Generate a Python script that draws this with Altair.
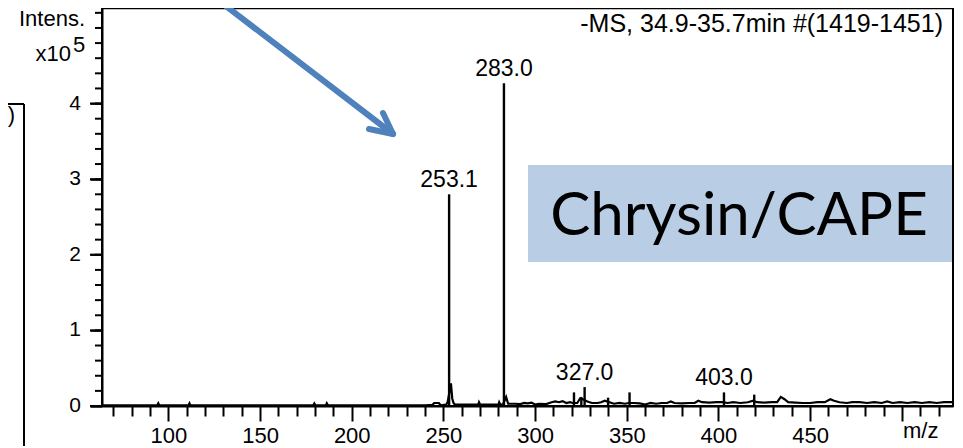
import altair as alt
import pandas as pd

# ---- data ----
# stick peaks (m/z, intensity in units of 1e5)
peak_mz = [253.1, 283.0, 321.2, 325.2, 327.0, 339.8, 351.5, 403.0, 419.5]
peak_int = [2.80, 4.27, 0.18, 0.12, 0.25, 0.11, 0.18, 0.18, 0.15]

# labelled peaks
label_mz = [253.1, 283.0, 327.0, 403.0]
label_int = [2.80, 4.27, 0.25, 0.18]
label_txt = ["253.1", "283.0", "327.0", "403.0"]

# baseline / noise trace
noise_mz = [64, 94, 94.5, 95, 111, 111.5, 112, 179, 179.6, 180.2, 186, 186.4, 187,
            240, 244, 245, 247.5, 248.5, 251.5, 252.3, 254.1, 254.8, 255.5, 256.2,
            262, 269, 269.4, 270, 280, 280.4, 281, 282.5, 284.2, 285.3, 289, 292,
            294, 296, 298, 300, 302, 306, 309, 311, 313, 315, 317, 319, 320.5, 323,
            324.5, 326, 328.5, 331, 334, 336, 338, 340.5, 343, 346, 349, 351, 354,
            357, 360, 363, 366, 369, 372, 374, 376, 380, 384, 387, 389, 391, 395,
            399, 402, 405, 408, 412, 416, 419, 421, 425, 429, 432, 434, 436, 438,
            442, 446, 450, 454, 458, 461, 463, 466, 470, 473, 477, 481, 485, 489,
            492, 495, 499, 503, 507, 511, 515, 519, 523, 527.5]
noise_int = [0.01, 0.01, 0.035, 0.01, 0.01, 0.035, 0.01, 0.01, 0.035, 0.01, 0.01, 0.035, 0.01,
             0.01, 0.015, 0.04, 0.04, 0.01, 0.02, 0.05, 0.30, 0.10, 0.04, 0.02,
             0.02, 0.02, 0.05, 0.02, 0.02, 0.05, 0.02, 0.02, 0.12, 0.03, 0.03, 0.025,
             0.04, 0.035, 0.045, 0.02, 0.03, 0.025, 0.05, 0.06, 0.05, 0.065, 0.04, 0.05, 0.04, 0.04,
             0.10, 0.09, 0.06, 0.04, 0.04, 0.05, 0.07, 0.05, 0.03, 0.04, 0.03, 0.04, 0.04,
             0.035, 0.02, 0.04, 0.03, 0.04, 0.04, 0.06, 0.04, 0.035, 0.04, 0.04, 0.07, 0.05, 0.045,
             0.05, 0.05, 0.04, 0.05, 0.04, 0.05, 0.07, 0.05, 0.045, 0.05, 0.05, 0.12, 0.09, 0.05,
             0.045, 0.04, 0.04, 0.05, 0.05, 0.09, 0.07, 0.05, 0.04, 0.05, 0.05, 0.04, 0.05, 0.04,
             0.06, 0.04, 0.05, 0.04, 0.05, 0.04, 0.05, 0.04, 0.05, 0.05]

x_ticks = list(range(70, 530, 10))
y_major = [0, 1, 2, 3, 4]
y_major_txt = ["0", "1", "2", "3", "4"]
y_minor = [round(i * 0.2, 1) for i in range(27)]
x_domain = [63.8, 527.9]
y_domain = [0, 5.26]

title_txt = "-MS, 34.9-35.7min #(1419-1451)"
box_txt = "Chrysin/CAPE"

W, H = 851, 397.7
FONT = "Liberation Sans"

peaks = pd.DataFrame({"mz": peak_mz, "inten": peak_int})
labels = pd.DataFrame({"mz": label_mz, "inten": label_int, "txt": label_txt})
noise = pd.DataFrame({"mz": noise_mz, "inten": noise_int})
minor = pd.DataFrame({"inten": y_minor})
ylab = pd.DataFrame({"inten": y_major, "txt": y_major_txt})

xscale = alt.Scale(domain=x_domain, nice=False, zero=False)
yscale = alt.Scale(domain=y_domain, nice=False, zero=False)

xaxis = alt.Axis(
    values=x_ticks, title=None, grid=False, labelOverlap=False, labelFlush=False,
    tickSize={"condition": {"test": "datum.value % 50 === 0", "value": 15}, "value": 10},
    labelExpr="datum.value === 510 ? 'm/z' : ((datum.value % 50 === 0 && datum.value <= 450) ? datum.label : '')",
    labelFontSize=22, labelPadding=4, labelFont=FONT,
)
yaxis = alt.Axis(
    values=y_major, title=None, grid=False, labels=False, ticks=True, tickSize=12,
)

X = alt.X("mz:Q", scale=xscale, axis=xaxis)
Y = alt.Y("inten:Q", scale=yscale, axis=yaxis)

minor_ticks = alt.Chart(minor).mark_rule(color="black", strokeWidth=2).encode(
    y=Y, x=alt.value(-7), x2=alt.value(0)
)
major_ticks = alt.Chart(ylab).mark_rule(color="black", strokeWidth=2).encode(
    y=Y, x=alt.value(-12), x2=alt.value(0)
)
y_labels = alt.Chart(ylab).mark_text(
    font=FONT, fontSize=21, align="right", baseline="middle", color="black"
).encode(y=Y, x=alt.value(-21), text="txt:N")

noise_line = alt.Chart(noise).mark_line(color="black", strokeWidth=2.2).encode(x=X, y=Y)
sticks = alt.Chart(peaks).mark_rule(color="black", strokeWidth=2.4).encode(
    x=X, y=Y, y2=alt.datum(0)
)
peak_labels = alt.Chart(labels).mark_text(
    font=FONT, fontSize=23, baseline="middle", align="center", dy=-14, color="black"
).encode(x=X, y=Y, text="txt:N")

one = alt.Data(values=[{}])
BLUE = "#4f81bd"

box = alt.Chart(one).mark_rect(color="#b9cde5").encode(
    x=alt.value(426), x2=alt.value(850), y=alt.value(156.7), y2=alt.value(253.7)
)
box_text = alt.Chart(one).mark_text(
    text=box_txt, font="Lato", fontSize=60, align="center", baseline="alphabetic", color="black"
).encode(x=alt.value(637), y=alt.value(226.7))

title = alt.Chart(one).mark_text(
    text=title_txt, font=FONT, fontSize=25, align="right", baseline="middle", color="black"
).encode(x=alt.value(841), y=alt.value(15.5))

intens = alt.Chart(one).mark_text(
    text="Intens.", font=FONT, fontSize=22, align="right", baseline="middle", color="black"
).encode(x=alt.value(-17), y=alt.value(11))
x10 = alt.Chart(one).mark_text(
    text="x10", font=FONT, fontSize=22, align="right", baseline="middle", color="black"
).encode(x=alt.value(-31), y=alt.value(45.5))
exp5 = alt.Chart(one).mark_text(
    text="5", font=FONT, fontSize=22, align="left", baseline="middle", color="black"
).encode(x=alt.value(-29), y=alt.value(36.5))

shaft = alt.Chart(one).mark_rule(color=BLUE, strokeWidth=6, strokeCap="round").encode(
    x=alt.value(116), y=alt.value(-8.3), x2=alt.value(291), y2=alt.value(125.7)
)
arm1 = alt.Chart(one).mark_rule(color=BLUE, strokeWidth=6, strokeCap="round").encode(
    x=alt.value(291), y=alt.value(125.7), x2=alt.value(267), y2=alt.value(120.7)
)
arm2 = alt.Chart(one).mark_rule(color=BLUE, strokeWidth=6, strokeCap="round").encode(
    x=alt.value(291), y=alt.value(125.7), x2=alt.value(281), y2=alt.value(104.7)
)

lbox_v = alt.Chart(one).mark_rule(color="black", strokeWidth=2).encode(
    x=alt.value(-78), y=alt.value(95.7), y2=alt.value(440)
)
lbox_h = alt.Chart(one).mark_rule(color="black", strokeWidth=2).encode(
    x=alt.value(-110), x2=alt.value(-78), y=alt.value(95.7)
)
lbox_t = alt.Chart(one).mark_text(
    text="7)", font=FONT, fontSize=22, align="right", baseline="middle", color="black"
).encode(x=alt.value(-87), y=alt.value(106.7))

chart = alt.layer(
    box, box_text, minor_ticks, major_ticks, y_labels, noise_line, sticks, peak_labels,
    title, intens, x10, exp5, shaft, arm1, arm2, lbox_v, lbox_h, lbox_t
).properties(
    width=W, height=H,
    autosize=alt.AutoSizeParams(type="none"),
    padding={"left": 94, "top": 0.3, "right": 2, "bottom": 40},
    background="white",
).configure_view(
    stroke="black", strokeWidth=2
).configure_axis(
    domainColor="black", domainWidth=2, tickColor="black", tickWidth=2,
    labelColor="black",
)

chart.save("out.html", embed_options={"renderer": "svg", "actions": False})
